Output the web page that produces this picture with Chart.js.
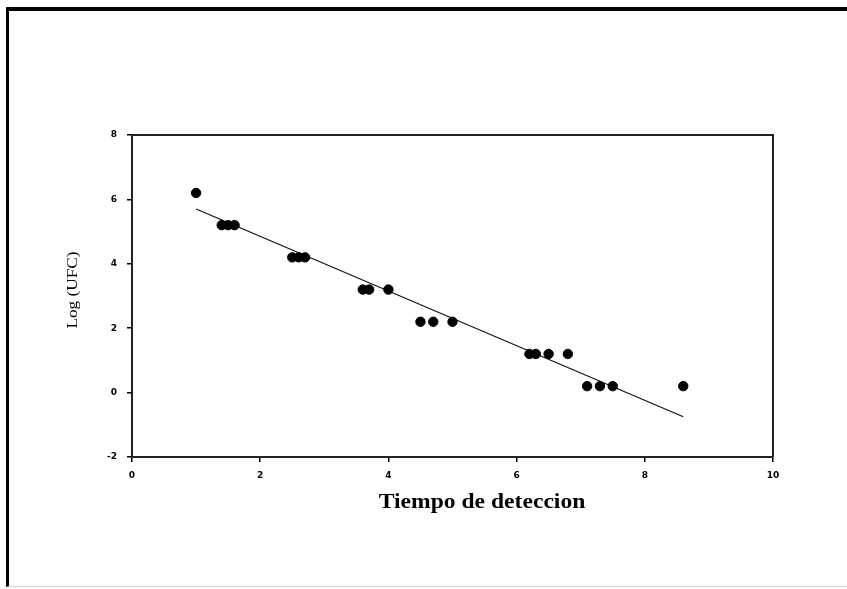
<!DOCTYPE html>
<html>
<head>
<meta charset="utf-8">
<script src="https://cdn.jsdelivr.net/npm/chart.js@4.4.1/dist/chart.umd.min.js"></script>
<style>
  html, body { margin: 0; padding: 0; background: #fff; }
  #frame {
    position: absolute; left: 6px; top: 7px; width: 841px; height: 580px;
    border-top: 4px solid #000; border-left: 3px solid #000; border-bottom: 1px solid #d8d8d8;
    box-sizing: border-box;
  }
  #wrap { position: absolute; left: 0; top: 0; width: 847px; height: 589px; }
</style>
</head>
<body>
<div id="frame"></div>
<div id="wrap"><canvas id="chart"></canvas></div>
<script>
// puntos medidos
const tiempo = [1.0, 1.4, 1.5, 1.6, 2.5, 2.6, 2.7, 3.6, 3.7, 4.0, 4.5, 4.7, 5.0, 6.2, 6.3, 6.5, 6.8, 7.1, 7.3, 7.5, 8.6];
const logUfc = [6.2, 5.2, 5.2, 5.2, 4.2, 4.2, 4.2, 3.2, 3.2, 3.2, 2.2, 2.2, 2.2, 1.2, 1.2, 1.2, 1.2, 0.2, 0.2, 0.2, 0.2];

// recta de regresion (extremos)
const lineaX = [1.0, 8.6];
const lineaY = [5.7, -0.75];

const xTicks = [0, 2, 4, 6, 8, 10];
const yTicks = [-2, 0, 2, 4, 6, 8];

const xTitle = "Tiempo de deteccion";
const yTitle = "Log (UFC)";

const tickFont = { family: "DejaVu Sans", size: 9, weight: "bold" };

// caja del grafico + titulos de ejes (texto algo estirado como el original)
const decoPlugin = {
  id: "deco",
  afterDraw(chart) {
    const ctx = chart.ctx;
    const a = chart.chartArea;
    ctx.save();
    ctx.strokeStyle = "#222";
    ctx.lineWidth = 2;
    ctx.beginPath();
    ctx.moveTo(a.left, a.top);
    ctx.lineTo(a.right, a.top);
    ctx.lineTo(a.right, a.bottom);
    ctx.stroke();

    ctx.fillStyle = "#000";
    ctx.textAlign = "center";
    ctx.textBaseline = "middle";

    ctx.save();
    ctx.translate(a.left + (a.right - a.left) * 0.546, a.bottom + 46);
    ctx.scale(1.18, 1);
    ctx.font = "bold 20px 'Liberation Serif'";
    ctx.fillText(xTitle, 0, 0);
    ctx.restore();

    ctx.save();
    ctx.translate(a.left - 59, a.top + 155);
    ctx.rotate(-Math.PI / 2);
    ctx.scale(1.15, 1);
    ctx.font = "15px 'Liberation Serif'";
    ctx.fillText(yTitle, 0, 0);
    ctx.restore();

    ctx.restore();
  }
};

new Chart(document.getElementById("chart").getContext("2d"), {
  type: "scatter",
  data: {
    datasets: [
      {
        label: "datos",
        data: tiempo.map((x, i) => ({ x: x, y: logUfc[i] })),
        backgroundColor: "#000",
        borderColor: "#000",
        pointRadius: 4.7,
        pointHoverRadius: 4.7,
      },
      {
        label: "ajuste",
        data: lineaX.map((x, i) => ({ x: x, y: lineaY[i] })),
        showLine: true,
        borderColor: "#111",
        borderWidth: 1.2,
        pointRadius: 0,
        fill: false,
      },
    ],
  },
  options: {
    responsive: true,
    maintainAspectRatio: false,
    animation: false,
    layout: { padding: { left: 64, top: 135, right: 74, bottom: 52 } },
    plugins: { legend: { display: false }, tooltip: { enabled: false } },
    scales: {
      x: {
        type: "linear",
        min: 0,
        max: 10,
        afterBuildTicks: (s) => { s.ticks = xTicks.map((v) => ({ value: v })); },
        afterFit: (s) => { s.height = 80; },
        grid: { drawOnChartArea: false, drawTicks: true, tickLength: 5, color: "#000", lineWidth: 1.5 },
        border: { display: true, color: "#222", width: 2 },
        ticks: { color: "#000", font: tickFont, padding: 8, maxRotation: 0 },
      },
      y: {
        type: "linear",
        min: -2,
        max: 8,
        afterBuildTicks: (s) => { s.ticks = yTicks.map((v) => ({ value: v })); },
        afterFit: (s) => { s.width = 68; },
        grid: { drawOnChartArea: false, drawTicks: true, tickLength: 5, color: "#000", lineWidth: 1.5 },
        border: { display: true, color: "#222", width: 2 },
        ticks: { color: "#000", font: tickFont, padding: 10 },
      },
    },
  },
  plugins: [decoPlugin],
});
</script>
</body>
</html>
